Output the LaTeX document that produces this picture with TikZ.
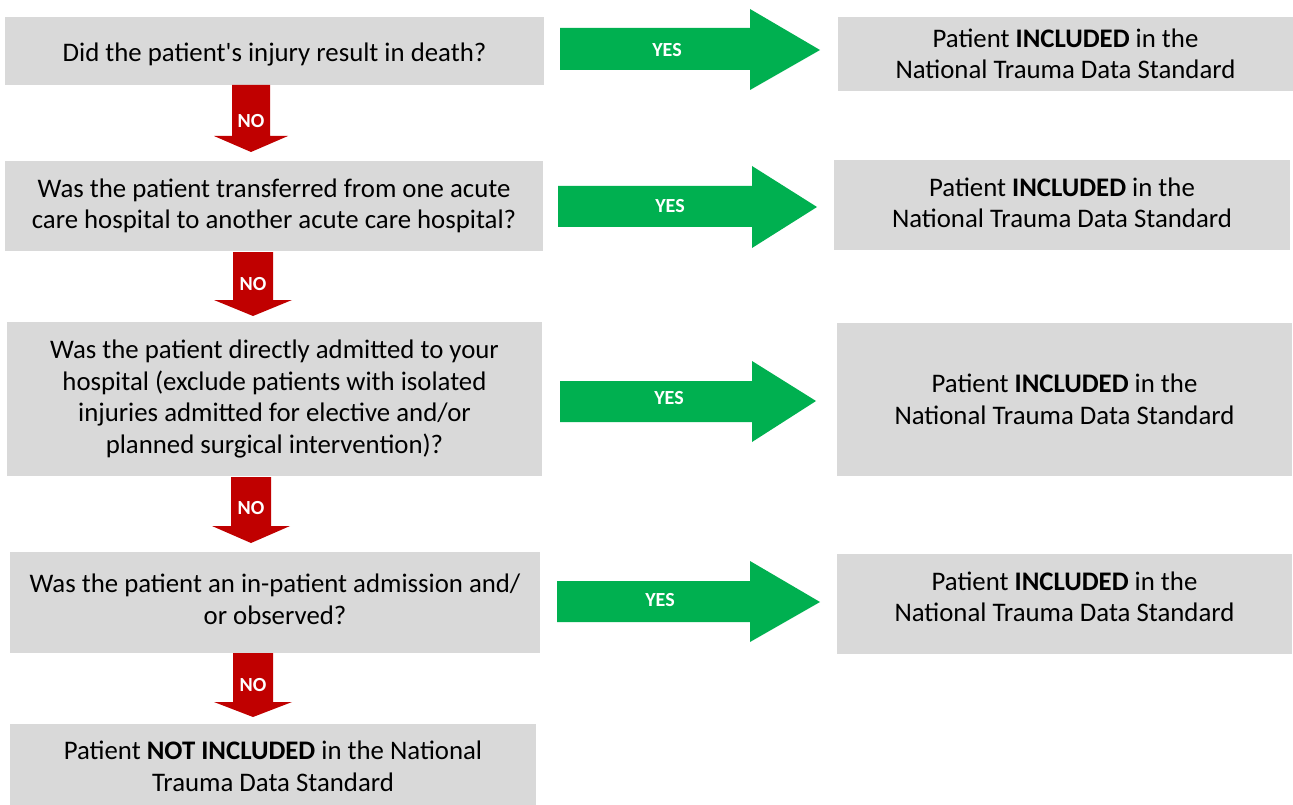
\documentclass[tikz,border=0pt]{standalone}
\usepackage{fontspec}
\setmainfont{Carlito}
\definecolor{boxgray}{HTML}{D9D9D9}
\definecolor{yesgreen}{HTML}{00B050}
\definecolor{nored}{HTML}{C00000}
\begin{document}
\begin{tikzpicture}[x=1pt,y=-1pt,
  box/.style={fill=boxgray, draw=none, inner sep=0pt},
  txt/.style={inner sep=0pt, align=center, font=\fontsize{26.8}{31.5}\selectfont},
  yesarrow/.style={fill=yesgreen, draw=none},
  noarrow/.style={fill=nored, draw=none},
  yeslabel/.style={text=white, font=\fontsize{20}{24}\selectfont\bfseries, inner sep=0pt},
  nolabel/.style={text=white, font=\fontsize{20}{24}\selectfont\bfseries, inner sep=0pt}]
\useasboundingbox (0,0) rectangle (1293,805);
\fill[white] (0,0) rectangle (1293,805);

% question boxes
\node[box, minimum width=539pt, minimum height=68pt] (q1) at (274.5,51) {};
\node[box, minimum width=538pt, minimum height=90pt] (q2) at (274,206) {};
\node[box, minimum width=535pt, minimum height=154pt] (q3) at (274.5,399) {};
\node[box, minimum width=530pt, minimum height=101pt] (q4) at (275,602.5) {};
\node[box, minimum width=526pt, minimum height=81pt] (q5) at (273,764.5) {};
\node[txt] (q1t) at ([yshift=-3pt]q1.center) {Did the patient\textquotesingle s injury result in death?};
\node[txt] (q2t) at (q2.center) {Was the patient transferred from one acute\\care hospital to another acute care hospital?};
\node[txt] (q3t) at (q3.center) {Was the patient directly admitted to your\\hospital (exclude patients with isolated\\injuries admitted for elective and/or\\planned surgical intervention)?};
\node[txt] (q4t) at ([yshift=3pt]q4.center) {Was the patient an in-patient admission and/\\or observed?};
\node[txt] (q5t) at ([yshift=-2pt]q5.center) {Patient \textbf{NOT INCLUDED} in the National\\Trauma Data Standard};

% result boxes
\node[box, minimum width=455pt, minimum height=74pt] (r1) at (1065.5,54) {};
\node[box, minimum width=456pt, minimum height=90pt] (r2) at (1062,205) {};
\node[box, minimum width=455pt, minimum height=153pt] (r3) at (1064.5,399.5) {};
\node[box, minimum width=455pt, minimum height=100pt] (r4) at (1064.5,604) {};
\node[txt] (r1t) at (r1.center) {Patient \textbf{INCLUDED} in the\\National Trauma Data Standard};
\node[txt] (r2t) at ([yshift=2pt]r2.center) {Patient \textbf{INCLUDED} in the\\National Trauma Data Standard};
\node[txt] (r3t) at (r3.center) {Patient \textbf{INCLUDED} in the\\National Trauma Data Standard};
\node[txt] (r4t) at ([yshift=7pt]r4.center) {Patient \textbf{INCLUDED} in the\\National Trauma Data Standard};

% YES arrows
\fill[yesarrow] (560,28) -- (750,28) -- (750,9) -- (820,50) -- (750,90) -- (750,70) -- (560,70) -- cycle;
\fill[yesarrow] (558,186) -- (752,186) -- (752,166) -- (817,207) -- (752,248) -- (752,227) -- (558,227) -- cycle;
\fill[yesarrow] (560,381) -- (752,381) -- (752,361) -- (816,401) -- (752,442) -- (752,422) -- (560,422) -- cycle;
\fill[yesarrow] (557,581) -- (750,581) -- (750,561) -- (820,602) -- (750,642) -- (750,622) -- (557,622) -- cycle;
\node[yeslabel] (y1) at (667,50) {YES};
\node[yeslabel] (y2) at (670,206) {YES};
\node[yeslabel] (y3) at (669,398) {YES};
\node[yeslabel] (y4) at (660,600) {YES};

% NO arrows
\fill[noarrow] (232,85) -- (270,85) -- (270,136) -- (288,136) -- (251,152) -- (214,136) -- (232,136) -- cycle;
\fill[noarrow] (233,252) -- (273,252) -- (273,300) -- (292,300) -- (253,316) -- (214,300) -- (233,300) -- cycle;
\fill[noarrow] (231,477) -- (271,477) -- (271,526) -- (290,526) -- (251,543) -- (212,526) -- (231,526) -- cycle;
\fill[noarrow] (233,653) -- (273,653) -- (273,702) -- (292,702) -- (253,717) -- (214,702) -- (233,702) -- cycle;
\node[nolabel] (n1) at (251,121) {NO};
\node[nolabel] (n2) at (253,284) {NO};
\node[nolabel] (n3) at (251,508) {NO};
\node[nolabel] (n4) at (253,685) {NO};
\end{tikzpicture}
\end{document}
